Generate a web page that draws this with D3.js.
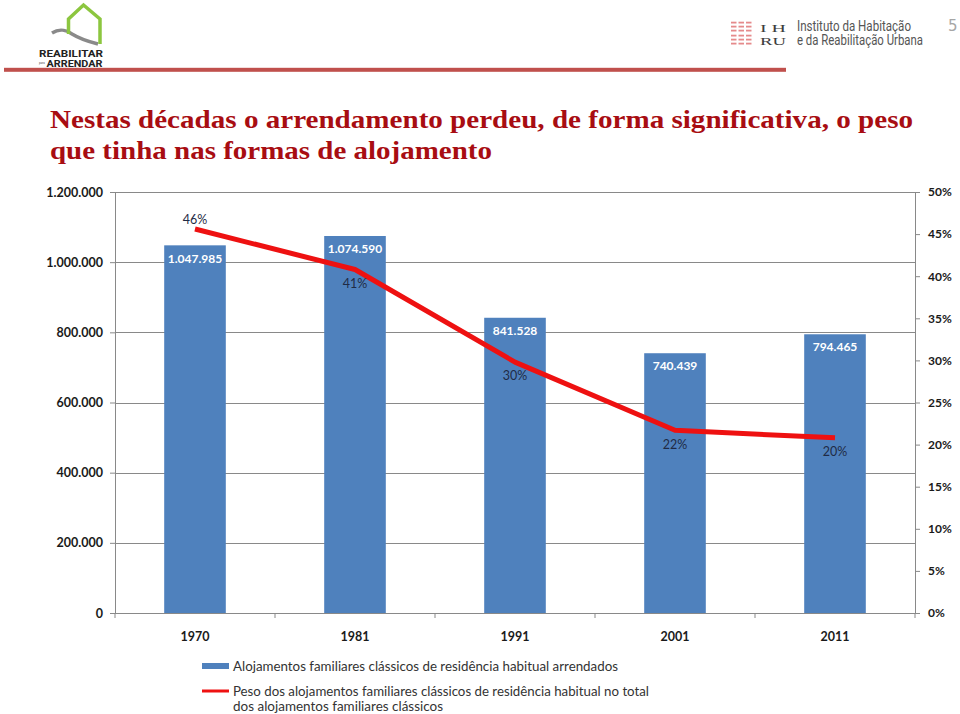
<!DOCTYPE html>
<html>
<head>
<meta charset="utf-8">
<script src="https://cdn.jsdelivr.net/npm/d3@7"></script>
<style>
  html, body { margin: 0; padding: 0; background: #fff; }
  svg { display: block; }
</style>
</head>
<body>
<svg id="chart" width="960" height="714"></svg>
<script>
// ---------- data ----------
const years = ["1970", "1981", "1991", "2001", "2011"];
const rented = [1047985, 1074590, 841528, 740439, 794465];
const share = [45.6, 40.8, 29.8, 21.7, 20.8];
const shareLabels = ["46%", "41%", "30%", "22%", "20%"];
const leftTicks = [0, 200000, 400000, 600000, 800000, 1000000, 1200000];
const rightTicks = [0, 5, 10, 15, 20, 25, 30, 35, 40, 45, 50];
const titleLines = [
  "Nestas décadas o arrendamento perdeu, de forma significativa, o peso",
  "que tinha nas formas de alojamento"
];
const legendBar = "Alojamentos familiares clássicos de residência habitual arrendados";
const legendLine = [
  "Peso dos alojamentos familiares clássicos de residência habitual no total",
  "dos alojamentos familiares clássicos"
];

// ---------- setup ----------
const svg = d3.select("#chart");
const F = "Lato, 'Open Sans', 'DejaVu Sans', sans-serif";
const NARROW = "'Liberation Sans Narrow', 'Roboto', sans-serif";
const ptLocale = d3.formatLocale({decimal: ",", thousands: ".", grouping: [3], currency: ["", " €"]});
const fmt = ptLocale.format(",");

const plot = {left: 115, right: 915, top: 192, bottom: 613};
const x = d3.scaleBand().domain(years).range([plot.left, plot.right])
  .paddingInner(0.615).paddingOuter(0.3075);
const yL = d3.scaleLinear().domain([0, 1200000]).range([plot.bottom, plot.top]);
const yR = d3.scaleLinear().domain([0, 50]).range([plot.bottom, plot.top]);
const cx = d => x(d) + x.bandwidth() / 2;

// ---------- header: logos ----------
const logo = svg.append("g");
logo.append("path")
  .attr("d", "M52,33 C60,28 66,30 72,34 C80,39 90,42 98,44")
  .attr("fill", "none").attr("stroke", "#8a8a8a").attr("stroke-width", 3.5);
logo.append("path")
  .attr("d", "M68.5,34 L68.5,19 L83.5,5 L100,19 L100,44")
  .attr("fill", "none").attr("stroke", "#8cc63f").attr("stroke-width", 3.5)
  .attr("stroke-linejoin", "miter");
logo.append("text").attr("x", 39).attr("y", 56.5)
  .attr("font-family", NARROW).attr("font-weight", "bold")
  .attr("font-size", 9.5).attr("fill", "#222").attr("textLength", 64).attr("lengthAdjust", "spacingAndGlyphs")
  .text("REABILITAR");
logo.append("text").attr("x", 39).attr("y", 63.5)
  .attr("font-family", F).attr("font-size", 3).attr("fill", "#444").text("para");
logo.append("text").attr("x", 46.5).attr("y", 66.5)
  .attr("font-family", NARROW).attr("font-weight", "bold")
  .attr("font-size", 9.5).attr("fill", "#222").attr("textLength", 56).attr("lengthAdjust", "spacingAndGlyphs")
  .text("ARRENDAR");

// red separator
svg.append("rect").attr("x", 4).attr("y", 67.8).attr("width", 782).attr("height", 4)
  .attr("fill", "#c0504d");

// IHRU logo
const ih = svg.append("g");
[22.5, 26.5, 30.5, 35.5, 39.5, 43.5].forEach(yy => {
  [0, 1, 2].forEach(k => {
    ih.append("rect").attr("x", 731 + k * 7.5).attr("y", yy - 0.8)
      .attr("width", 5.5).attr("height", 1.8).attr("fill", "#e58a8b");
  });
});
ih.append("text").attr("x", 760).attr("y", 31.5).attr("font-family", "'Liberation Serif', serif")
  .attr("font-size", 11).attr("fill", "#3d3d3d").attr("textLength", 26).attr("lengthAdjust", "spacingAndGlyphs").text("I H");
ih.append("text").attr("x", 760).attr("y", 44.5).attr("font-family", "'Liberation Serif', serif")
  .attr("font-size", 11).attr("fill", "#3d3d3d").attr("textLength", 26).attr("lengthAdjust", "spacingAndGlyphs").text("RU");
ih.append("text").attr("x", 797).attr("y", 30.5)
  .attr("font-family", NARROW).attr("font-size", 14)
  .attr("fill", "#555").attr("textLength", 114).attr("lengthAdjust", "spacingAndGlyphs")
  .text("Instituto da Habitação");
ih.append("text").attr("x", 797).attr("y", 45)
  .attr("font-family", NARROW).attr("font-size", 14)
  .attr("fill", "#555").attr("textLength", 126).attr("lengthAdjust", "spacingAndGlyphs")
  .text("e da Reabilitação Urbana");
svg.append("text").attr("x", 948).attr("y", 31)
  .attr("font-family", "'DejaVu Sans', sans-serif").attr("font-size", 15)
  .attr("fill", "#a6a6a6").text("5");

// ---------- title ----------
const titleWidths = [863, 442];
svg.append("g").selectAll("text").data(titleLines).join("text")
  .attr("x", 50).attr("y", (d, i) => 128 + i * 30.5)
  .attr("font-family", "'Liberation Serif', 'DejaVu Serif', serif")
  .attr("font-weight", "bold").attr("font-size", 26).attr("fill", "#a80d12")
  .attr("textLength", (d, i) => titleWidths[i]).attr("lengthAdjust", "spacingAndGlyphs")
  .text(d => d);

// ---------- gridlines ----------
svg.append("g").selectAll("line").data(leftTicks.filter(t => t > 0)).join("line")
  .attr("x1", plot.left).attr("x2", plot.right)
  .attr("y1", d => Math.round(yL(d)) + 0.5).attr("y2", d => Math.round(yL(d)) + 0.5)
  .attr("stroke", "#898989").attr("stroke-width", 1);

// ---------- bars ----------
const barData = years.map((y, i) => ({year: y, v: rented[i]}));
svg.append("g").selectAll("rect").data(barData).join("rect")
  .attr("x", d => x(d.year)).attr("width", x.bandwidth())
  .attr("y", d => yL(d.v)).attr("height", d => yL(0) - yL(d.v))
  .attr("fill", "#4f81bd");
svg.append("g").selectAll("text").data(barData).join("text")
  .attr("x", d => cx(d.year)).attr("y", d => yL(d.v) + 13).attr("dy", "0.35em")
  .attr("text-anchor", "middle").attr("font-family", F).attr("font-weight", "bold")
  .attr("font-size", 12).attr("fill", "#fff").text(d => fmt(d.v));

// ---------- axes ----------
const axisColor = "#898989";
const gL = svg.append("g").attr("transform", `translate(${plot.left},0)`)
  .call(d3.axisLeft(yL).tickValues(leftTicks).tickSize(5).tickPadding(7).tickFormat(fmt));
const gR = svg.append("g").attr("transform", `translate(${plot.right},0)`)
  .call(d3.axisRight(yR).tickValues(rightTicks).tickSize(5).tickPadding(8).tickFormat(d => d + "%"));
const gB = svg.append("g").attr("transform", `translate(0,${plot.bottom})`)
  .call(d3.axisBottom(x).tickSize(0).tickPadding(19));
[gL, gR, gB].forEach(g => {
  g.select(".domain").attr("stroke", axisColor);
  g.selectAll(".tick line").attr("stroke", axisColor);
  g.selectAll(".tick text").attr("font-family", F).attr("font-weight", "bold")
    .attr("font-size", 12.5).attr("fill", "#1a1a1a");
});
gR.selectAll(".tick text").attr("font-size", 12);
gB.select(".domain").attr("d", `M${plot.left},0.5H${plot.right}`);
const bounds = years.map(y => x(y) - (x.step() - x.bandwidth()) / 2).concat([plot.right]);
gB.selectAll(".bound").data(bounds).join("line").attr("class", "bound")
  .attr("x1", d => d).attr("x2", d => d).attr("y1", 0).attr("y2", 5)
  .attr("stroke", axisColor);

// ---------- line ----------
const linePts = years.map((y, i) => ({year: y, v: share[i], label: shareLabels[i]}));
svg.append("path").datum(linePts)
  .attr("d", d3.line().x(d => cx(d.year)).y(d => yR(d.v)))
  .attr("fill", "none").attr("stroke", "#ee1111").attr("stroke-width", 5)
  .attr("stroke-linejoin", "round");
svg.append("g").selectAll("text").data(linePts).join("text")
  .attr("x", d => cx(d.year)).attr("y", (d, i) => yR(d.v) + (i === 0 ? -9 : 14)).attr("dy", "0.35em")
  .attr("text-anchor", "middle").attr("font-family", F).attr("font-size", 12.5)
  .attr("fill", "#1f2b45").text(d => d.label);

// ---------- legend ----------
const lg = svg.append("g");
lg.append("rect").attr("x", 202).attr("y", 663).attr("width", 27).attr("height", 6).attr("fill", "#4f81bd");
lg.append("line").attr("x1", 202).attr("x2", 229).attr("y1", 691).attr("y2", 691)
  .attr("stroke", "#ee1111").attr("stroke-width", 3);
const legTexts = [
  {t: legendBar, y: 666, w: 385},
  {t: legendLine[0], y: 691, w: 416},
  {t: legendLine[1], y: 706, w: 210}
];
lg.selectAll("text").data(legTexts).join("text")
  .attr("x", 233).attr("y", d => d.y).attr("dy", "0.35em")
  .attr("font-family", F).attr("font-size", 13).attr("fill", "#333")
  .attr("textLength", d => d.w).attr("lengthAdjust", "spacingAndGlyphs")
  .text(d => d.t);
</script>
</body>
</html>
